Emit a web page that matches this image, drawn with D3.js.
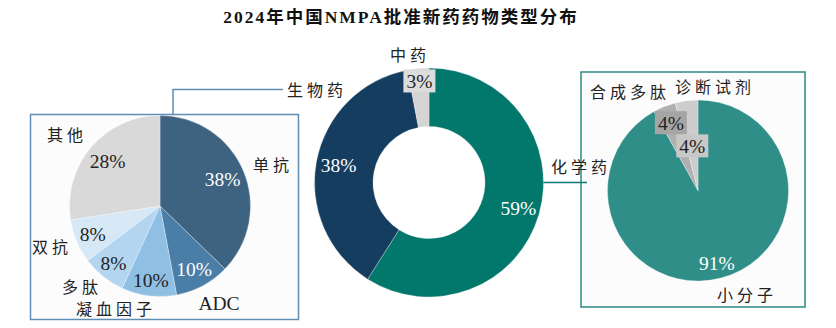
<!DOCTYPE html>
<html>
<head>
<meta charset="utf-8">
<script src="https://cdn.jsdelivr.net/npm/d3@7/dist/d3.min.js"></script>
<style>
  html, body { margin: 0; padding: 0; background: #fff; }
  svg { display: block; }
  text { font-family: "Liberation Serif", "Times New Roman", "Noto Sans CJK SC", serif; fill: #222; }
  .cn { font-family: "Liberation Serif", "Noto Sans CJK SC", serif; font-size: 16px; letter-spacing: 4px; }
  .pct { font-size: 19.5px; }
</style>
</head>
<body>
<svg id="chart" width="836" height="328"></svg>
<script>
// Title
const title = "2024年中国NMPA批准新药药物类型分布";

// Overall split (donut, centre)
const mainCats = ["化学药", "生物药", "中药"];
const mainVals = [59, 38, 3];

// Biologics breakdown (left pie)
const bioCats = ["单抗", "ADC", "凝血因子", "多肽", "双抗", "其他"];
const bioVals = [38, 10, 10, 8, 8, 28];

// Chemical drug breakdown (right pie)
const chemCats = ["小分子", "合成多肽", "诊断试剂"];
const chemVals = [91, 4, 4];

const svg = d3.select("#chart");

svg.append("text")
  .attr("x", 401).attr("y", 23)
  .attr("text-anchor", "middle")
  .style("font-size", "17.5px").style("font-weight", "bold")
  .style("font-family", "'Liberation Serif', 'Noto Sans CJK SC', serif")
  .style("letter-spacing", "2px")
  .style("fill", "#111")
  .text(title);

// Side boxes
svg.append("rect").attr("x", 30.5).attr("y", 114.5).attr("width", 268).attr("height", 205)
  .attr("fill", "#fcfcfc").attr("stroke", "#5f8db3").attr("stroke-width", 1.5);
svg.append("rect").attr("x", 581).attr("y", 72).attr("width", 224).attr("height", 235)
  .attr("fill", "#fcfcfc").attr("stroke", "#2b8a82").attr("stroke-width", 1.5);

// Connector lines
svg.append("path").attr("d", "M173,114 V89.5 H283")
  .attr("fill", "none").attr("stroke", "#5f8db3").attr("stroke-width", 1.5);
svg.append("path").attr("d", "M485,182.5 H587")
  .attr("fill", "none").attr("stroke", "#0d7a70").attr("stroke-width", 1.5);

function drawPie(cfg) {
  const g = svg.append("g").attr("transform", `translate(${cfg.cx},${cfg.cy})`);
  const pie = d3.pie().sort(null).value(d => d.v);
  const arcs = pie(cfg.cats.map((c, i) => ({ c, v: cfg.vals[i] })));
  const arc = d3.arc().innerRadius(cfg.inner).outerRadius(cfg.outer);
  g.selectAll("path.slice").data(arcs).join("path")
    .attr("class", "slice")
    .attr("d", arc)
    .attr("fill", (d, i) => cfg.colors[i])
    .attr("stroke", "#fff").attr("stroke-opacity", 0.5).attr("stroke-width", 0.6);

  arcs.forEach((d, i) => {
    const r = cfg.labelR[i];
    const [x, y] = d3.arc().innerRadius(r).outerRadius(r).centroid(d);
    const label = d.data.v + "%";
    if (cfg.labelBg[i]) {
      const w = label.length === 2 ? 32 : 40;
      g.append("rect").attr("x", x - w / 2).attr("y", y - 11.5).attr("width", w).attr("height", 23)
        .attr("fill", cfg.labelBg[i]);
    }
    g.append("text").attr("class", "pct")
      .attr("x", x).attr("y", y).attr("dy", "0.35em")
      .attr("text-anchor", "middle")
      .style("fill", cfg.labelColor[i])
      .text(label);
  });

  cfg.cats.forEach((c, i) => {
    const [x, y] = cfg.namePos[i];
    const latin = /^[A-Za-z]+$/.test(c);
    svg.append("text")
      .attr("class", latin ? "pct" : "cn")
      .attr("x", x + (latin ? 0 : 2)).attr("y", y).attr("dy", "0.35em")
      .attr("text-anchor", "middle")
      .text(c);
  });
}

drawPie({
  cx: 429, cy: 182.5, inner: 56, outer: 114.5,
  cats: mainCats, vals: mainVals,
  colors: ["#02786d", "#143d5f", "#d4d4d4"],
  labelR: [93, 92, 102],
  labelBg: [null, null, "#dcdcdc"],
  labelColor: ["#fff", "#fff", "#222"],
  namePos: [[579, 167], [315, 90], [408, 55]]
});

drawPie({
  cx: 160, cy: 206, inner: 0, outer: 90.5,
  cats: bioCats, vals: bioVals,
  colors: ["#3e6381", "#4a7ea7", "#8fc0e4", "#b3d5ef", "#d6e8f6", "#d9d9d9"],
  labelR: [68, 72, 75, 74, 73, 69],
  labelBg: [null, null, null, null, null, null],
  labelColor: ["#fff", "#fff", "#222", "#222", "#222", "#222"],
  namePos: [[271, 165], [219, 303], [114, 309], [80, 287], [50, 247], [65, 135]]
});

drawPie({
  cx: 698, cy: 190.5, inner: 0, outer: 90.5,
  cats: chemCats, vals: chemVals,
  colors: ["#2f8e88", "#b0b0b0", "#cdcdcd"],
  labelR: [75, 73, 45],
  labelBg: [null, "#a5a5a5", "#c8c8c8"],
  labelColor: ["#fff", "#222", "#222"],
  namePos: [[745, 295], [628, 92], [713, 87]]
});
</script>
</body>
</html>
